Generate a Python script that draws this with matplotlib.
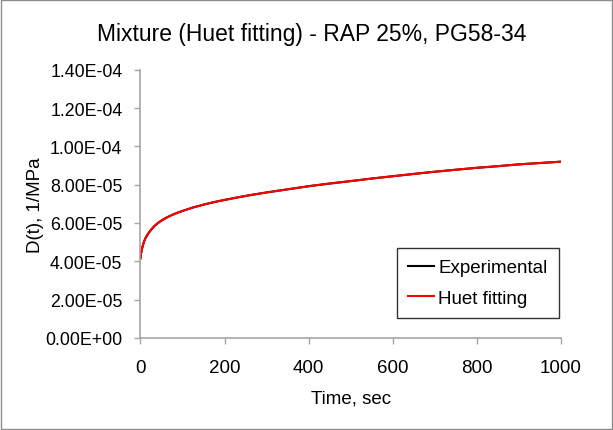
import numpy as np
import matplotlib.pyplot as plt
from matplotlib.patches import Rectangle

plt.rcParams['font.family'] = ['Liberation Sans', 'DejaVu Sans']

# values (time in sec, D(t) in 1/MPa)
time_sec = [0, 1, 2, 3, 5, 8, 11, 15, 20, 26, 33, 41, 50, 60, 73, 86, 100,
            125, 152, 175, 200, 232, 265, 300, 351, 400, 450, 509, 550, 600,
            650, 688, 750, 800, 847, 900, 950, 1000]
d_experimental = [4.16e-5, 4.36e-5, 4.50e-5, 4.60e-5, 4.78e-5, 5.00e-5,
                  5.17e-5, 5.33e-5, 5.50e-5, 5.67e-5, 5.84e-5, 5.99e-5,
                  6.13e-5, 6.26e-5, 6.40e-5, 6.52e-5, 6.63e-5, 6.81e-5,
                  6.97e-5, 7.09e-5, 7.205e-5, 7.34e-5, 7.47e-5, 7.595e-5,
                  7.76e-5, 7.92e-5, 8.06e-5, 8.21e-5, 8.32e-5, 8.44e-5,
                  8.56e-5, 8.65e-5, 8.78e-5, 8.88e-5, 8.96e-5, 9.06e-5,
                  9.13e-5, 9.20e-5]
d_huet = [4.16e-5, 4.36e-5, 4.50e-5, 4.60e-5, 4.78e-5, 5.00e-5,
          5.17e-5, 5.33e-5, 5.50e-5, 5.67e-5, 5.84e-5, 5.99e-5,
          6.13e-5, 6.26e-5, 6.40e-5, 6.52e-5, 6.63e-5, 6.81e-5,
          6.97e-5, 7.09e-5, 7.205e-5, 7.34e-5, 7.47e-5, 7.595e-5,
          7.76e-5, 7.92e-5, 8.06e-5, 8.21e-5, 8.32e-5, 8.44e-5,
          8.56e-5, 8.65e-5, 8.78e-5, 8.88e-5, 8.96e-5, 9.06e-5,
          9.13e-5, 9.20e-5]

x_ticks = [0, 200, 400, 600, 800, 1000]
y_ticks = np.arange(0, 1.41e-4, 2e-5)

fig = plt.figure(figsize=(6.13, 4.31), dpi=100)
ax = fig.add_axes([0.2292, 0.2135, 0.686, 0.6225])

ax.plot(time_sec, d_experimental, color='black', lw=1.5, label='Experimental')
ax.plot(time_sec, d_huet, color='red', lw=1.5, label='Huet fitting')

ax.set_xlim(0, 1000)
ax.set_ylim(0, 1.4e-4)
ax.set_xticks(x_ticks)
ax.set_yticks(y_ticks)
ax.set_yticklabels(['%.2E' % v for v in y_ticks])

for s in ['top', 'right']:
    ax.spines[s].set_visible(False)
for s in ['left', 'bottom']:
    ax.spines[s].set_color('#a6a6a6')
    ax.spines[s].set_linewidth(1.2)
ax.tick_params(colors='#a6a6a6', labelcolor='black', labelsize=12.8,
               length=4, width=1)
ax.tick_params(axis='y', pad=9)
ax.tick_params(axis='x', labelsize=13.5, pad=11)

ax.set_xlabel('Time, sec', fontsize=13.5, labelpad=10)
ax.set_ylabel('D(t), 1/MPa', fontsize=13.5, va='center')
ax.yaxis.set_label_coords(-0.25, 0.5)
fig.text(0.508, 1 - 35 / 431, 'Mixture (Huet fitting) - RAP 25%, PG58-34',
         fontsize=16.5, ha='center', va='center')

leg = ax.legend(loc='lower right', bbox_to_anchor=(0.995, 0.075),
                fontsize=13.5, frameon=True, fancybox=False,
                handlelength=1.35, handletextpad=0.25, borderpad=0.6,
                borderaxespad=0, labelspacing=0.7)
leg.get_frame().set_edgecolor('black')
leg.get_frame().set_linewidth(1)

# chart area border
fig.patches.append(Rectangle((0.002, 0.002), 0.996, 0.995, transform=fig.transFigure,
                             fill=False, edgecolor='#8c8c8c', lw=1))

fig.savefig('out.png', dpi=100)
